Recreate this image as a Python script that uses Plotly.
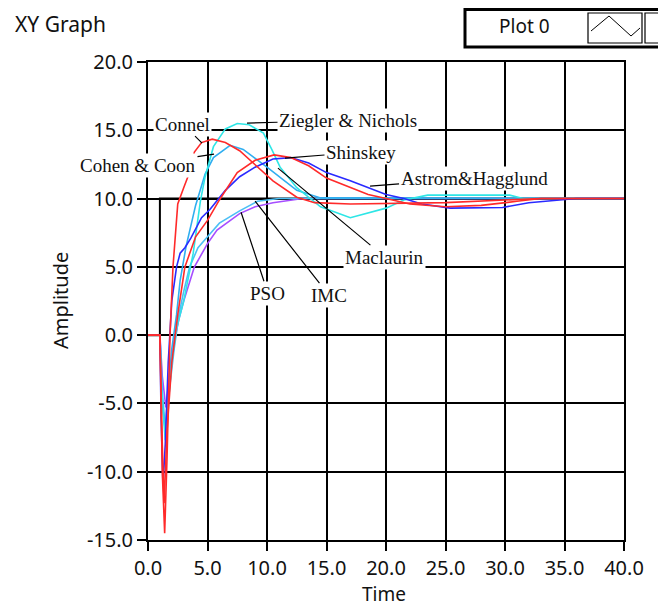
import plotly.graph_objects as go

# ---------------- data ----------------
t_connel = [0, 1.0, 1.2, 1.4, 1.6, 1.85, 2.1, 2.5, 3.0, 3.4, 3.9, 4.5, 5.4, 6.5, 7.7, 9.0, 10.5, 12.5, 14.0, 17.0, 20.0, 25.0, 30.0, 33.0, 40.0]
y_connel = [0, 0.0, -10.0, -14.5, -9.0, 0.0, 5.0, 9.6, 10.8, 11.7, 13.4, 14.1, 14.35, 14.1, 13.5, 12.5, 11.3, 10.1, 9.7, 9.6, 9.65, 9.7, 9.9, 10.0, 10.0]

t_shinskey = [0, 1.0, 1.2, 1.35, 1.6, 2.0, 2.5, 3.1, 4.0, 5.0, 6.0, 7.5, 9.0, 10.6, 12.0, 13.5, 15.0, 17.0, 18.5, 20.0, 22.0, 25.0, 28.0, 31.0, 33.0, 40.0]
y_shinskey = [0, 0.0, -8.0, -12.3, -7.0, -2.0, 1.5, 5.0, 7.2, 8.4, 9.9, 11.9, 12.8, 13.2, 13.0, 12.4, 11.5, 10.8, 10.3, 10.0, 9.6, 9.4, 9.5, 9.8, 10.0, 10.0]

t_astrom = [0, 1.0, 1.1, 1.26, 1.45, 1.7, 2.0, 2.4, 2.7, 3.1, 3.6, 4.5, 5.2, 6.5, 7.7, 9.0, 10.5, 12.0, 13.5, 15.0, 17.0, 18.8, 20.0, 21.5, 23.0, 25.4, 29.8, 32.0, 36.0, 40.0]
y_astrom = [0, 0.0, -6.0, -11.0, -8.0, -2.0, 2.5, 5.0, 6.0, 6.4, 7.1, 8.6, 9.2, 10.6, 11.6, 12.3, 12.9, 13.0, 12.6, 11.9, 11.3, 10.7, 10.3, 10.0, 9.6, 9.3, 9.35, 9.7, 10.0, 10.0]

t_zn = [0, 1.0, 1.15, 1.45, 1.7, 2.0, 2.4, 3.0, 3.8, 4.4, 4.8, 5.5, 6.5, 7.5, 8.5, 9.7, 10.4, 11.1, 12.5, 14.5, 17.0, 20.0, 21.5, 23.5, 30.4, 31.5, 40.0]
y_zn = [0, 0.0, -4.0, -7.7, -5.0, -2.0, 0.5, 2.5, 6.0, 9.8, 11.6, 13.8, 15.1, 15.5, 15.4, 14.8, 13.6, 12.3, 10.8, 9.4, 8.6, 9.3, 9.9, 10.25, 10.25, 10.0, 10.0]

t_cc = [0, 1.0, 1.2, 1.45, 1.7, 2.0, 2.4, 2.7, 3.2, 4.0, 4.8, 5.5, 6.9, 8.0, 10.0, 12.5, 14.5, 19.5, 40.0]
y_cc = [0, 0.0, -5.0, -7.0, -4.0, -1.0, 1.5, 4.0, 6.5, 9.5, 11.8, 13.0, 13.9, 13.6, 12.3, 10.6, 10.05, 10.05, 10.0]

t_imc = [0, 1.0, 1.2, 1.5, 1.8, 2.2, 2.6, 3.0, 3.5, 4.2, 5.0, 6.0, 7.7, 9.2, 11.0, 40.0]
y_imc = [0, 0.0, -4.0, -7.5, -4.0, -1.0, 1.5, 3.2, 5.0, 6.4, 7.2, 8.2, 9.1, 9.8, 10.0, 10.0]

t_pso = [0, 1.0, 1.2, 1.5, 1.8, 2.2, 2.6, 3.0, 3.9, 5.0, 5.8, 7.7, 9.0, 10.5, 13.0, 40.0]
y_pso = [0, 0.0, -3.0, -5.3, -3.0, -0.5, 1.2, 2.5, 5.0, 6.7, 7.7, 8.9, 9.4, 9.7, 10.0, 10.0]

t_setpoint = [0, 1.0, 1.0, 40.0]
y_setpoint = [0, 0.0, 10.0, 10.0]

x_ticks = [0, 5, 10, 15, 20, 25, 30, 35, 40]
y_ticks = [-15, -10, -5, 0, 5, 10, 15, 20]

# label name, arrow tip (t, y), label centre (t, y)
labels = [
    ("Connel", (4.54, 14.06), (2.94, 15.45)),
    ("Ziegler &amp; Nichols", (8.32, 15.52), (16.81, 15.74)),
    ("Cohen &amp; Coon", (5.55, 13.25), (-0.84, 12.45)),
    ("Shinskey", (11.51, 12.96), (17.9, 13.4)),
    ("Astrom&amp;Hagglund", (18.66, 10.91), (27.4, 11.5)),
    ("Maclaurin", (10.92, 12.23), (19.9, 5.71)),
    ("PSO", (7.82, 9.0), (10.08, 3.07)),
    ("IMC", (9.0, 9.81), (15.2, 2.93)),
]

# ---------------- figure ----------------
OFF = 8  # page body margin of the browser
W, H = 666 - OFF, 609 - OFF
L, T = 148 - OFF, 62 - OFF
R, B = W - (624 - OFF), H - (540 - OFF)
pw, ph = W - L - R, H - T - B


def px(xp):  # page pixel -> paper x
    return (xp - 148) / pw


def py(yp):  # page pixel -> paper y
    return (540 - yp) / ph


fig = go.Figure()
series = [
    (t_setpoint, y_setpoint, "black", 2.0),
    (t_pso, y_pso, "#A64DFF", 1.6),
    (t_imc, y_imc, "#4CBFF5", 1.6),
    (t_cc, y_cc, "#2FAEF0", 1.6),
    (t_zn, y_zn, "#2EE6E6", 1.6),
    (t_astrom, y_astrom, "#2A2AFF", 1.6),
    (t_shinskey, y_shinskey, "#FF2A2A", 1.6),
    (t_connel, y_connel, "#FF2A2A", 1.6),
]
for xs, ys, c, w in series:
    fig.add_trace(go.Scatter(x=xs, y=ys, mode="lines", line=dict(color=c, width=w),
                             showlegend=False, hoverinfo="skip"))

tickfont = dict(family="Noto Sans", size=20, color="#111111")
fig.update_xaxes(range=[0, 40], tickvals=x_ticks, ticktext=[f"{v:.1f}" for v in x_ticks],
                 showgrid=True, gridcolor="black", gridwidth=1.6, zeroline=False,
                 showline=True, linecolor="black", linewidth=2, mirror=True,
                 ticks="outside", ticklen=9, tickwidth=1.5, tickcolor="black",
                 tickfont=tickfont)
fig.update_yaxes(range=[-15, 20], tickvals=y_ticks, ticktext=[f"{v:.1f}" for v in y_ticks],
                 showgrid=True, gridcolor="black", gridwidth=1.6, zeroline=False,
                 showline=True, linecolor="black", linewidth=2, mirror=True,
                 ticks="outside", ticklen=9, tickwidth=1.5, tickcolor="black",
                 tickfont=tickfont)

anns = []
for name, (tx, ty), (lx, ly) in labels:
    anns.append(dict(x=tx, y=ty, ax=lx, ay=ly, xref="x", yref="y", axref="x", ayref="y",
                     text=name, showarrow=True, arrowhead=0, arrowwidth=1.2,
                     arrowcolor="black", standoff=0, bgcolor="white", borderpad=1,
                     font=dict(family="Liberation Serif", size=19, color="#111111")))

anns += [
    dict(x=px(13), y=py(24), xref="paper", yref="paper", xanchor="left", yanchor="middle",
         text="XY Graph", showarrow=False, font=dict(family="Noto Sans", size=21, color="#111111")),
    dict(x=px(60), y=py(301), xref="paper", yref="paper", xanchor="center", yanchor="middle",
         text="Amplitude", textangle=-90, showarrow=False,
         font=dict(family="Noto Sans", size=20, color="#111111")),
    dict(x=px(384), y=py(609), xref="paper", yref="paper", xanchor="center", yanchor="bottom",
         text="Time", showarrow=False, font=dict(family="Noto Sans", size=19, color="#111111")),
    dict(x=px(524), y=py(26), xref="paper", yref="paper", xanchor="center", yanchor="middle",
         text="Plot 0", showarrow=False, font=dict(family="Noto Sans", size=19, color="#111111")),
]
fig.update_layout(annotations=anns)

shapes = [
    dict(type="rect", xref="paper", yref="paper", x0=px(465), x1=px(690), y0=py(47), y1=py(9.5),
         line=dict(color="black", width=3), fillcolor="rgba(0,0,0,0)"),
    dict(type="rect", xref="paper", yref="paper", x0=px(588), x1=px(642), y0=py(43), y1=py(13),
         line=dict(color="black", width=1.2), fillcolor="white"),
    dict(type="rect", xref="paper", yref="paper", x0=px(645), x1=px(690), y0=py(43), y1=py(13),
         line=dict(color="black", width=1.2), fillcolor="white"),
    dict(type="path", xref="paper", yref="paper",
         path=f"M {px(591)},{py(31)} L {px(609)},{py(16)} L {px(631)},{py(36)} L {px(640)},{py(28)}",
         line=dict(color="black", width=1)),
]
fig.update_layout(shapes=shapes)

fig.update_layout(width=W, height=H, margin=dict(l=L, r=R, t=T, b=B, autoexpand=False),
                  paper_bgcolor="white", plot_bgcolor="white", showlegend=False)

fig.write_html("out.html")
